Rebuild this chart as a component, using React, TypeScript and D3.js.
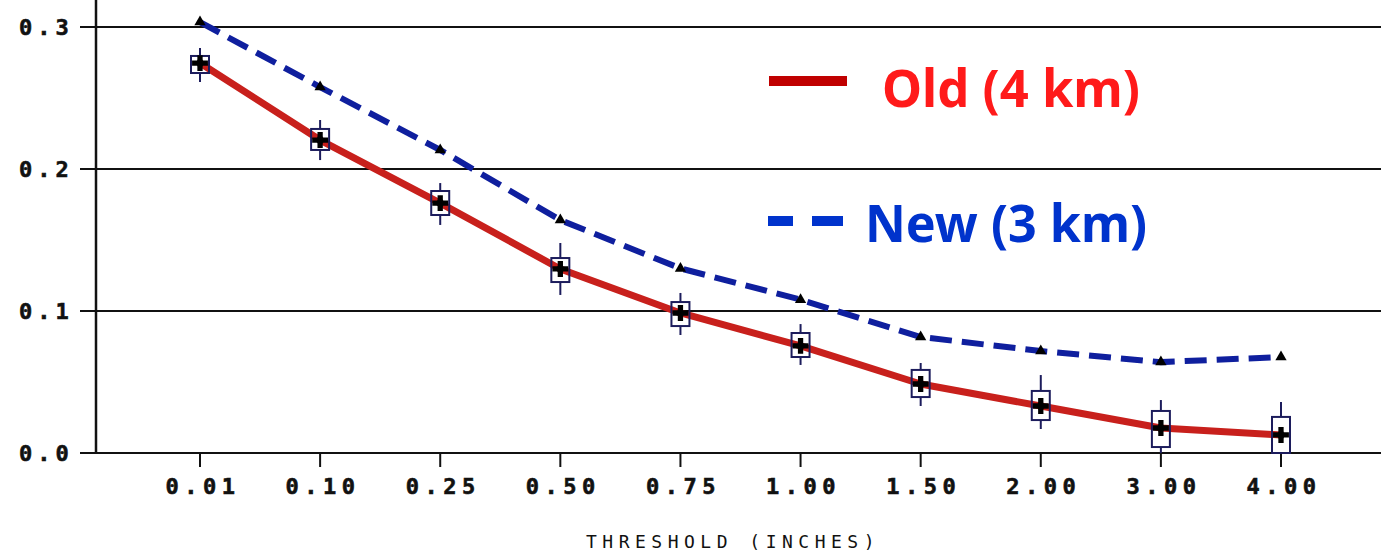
import React from "react";
import * as d3 from "d3";

const categories = ["0.01", "0.10", "0.25", "0.50", "0.75", "1.00", "1.50", "2.00", "3.00", "4.00"];
const oldValues = [0.2746, 0.2204, 0.176, 0.1296, 0.0986, 0.0754, 0.0486, 0.0331, 0.0176, 0.0127];
const newValues = [0.3035, 0.2577, 0.2134, 0.164, 0.130, 0.108, 0.0817, 0.0718, 0.064, 0.0676];
const oldBoxHigh = [0.2796, 0.2282, 0.1845, 0.1373, 0.1063, 0.0845, 0.0585, 0.0437, 0.0296, 0.0254];
const oldBoxLow = [0.2676, 0.2134, 0.1676, 0.1204, 0.0894, 0.0676, 0.0394, 0.0232, 0.0042, 0.0];
const oldWhiskerHigh = [0.2852, 0.2345, 0.1901, 0.1479, 0.1127, 0.0908, 0.0634, 0.0549, 0.0373, 0.0359];
const oldWhiskerLow = [0.2613, 0.2063, 0.1606, 0.1113, 0.0831, 0.062, 0.0331, 0.0169, 0.0, 0.0];
const yTicks = [0.0, 0.1, 0.2, 0.3];
const yTickLabels = ["0.0", "0.1", "0.2", "0.3"];
const xTitle = "THRESHOLD (INCHES)";
const legendLabels = ["Old (4 km)", "New (3 km)"];

const W = 1381;
const H = 554;

export default function App() {
  const x = d3.scalePoint<string>().domain(categories).range([200, 1281]);
  const y = d3.scaleLinear().domain([0, 0.3]).range([453, 27]);

  const line = d3
    .line<number>()
    .x((_, i) => x(categories[i]) as number)
    .y((d) => y(d));

  const cross = d3.symbol().type(d3.symbolCross).size(140)();
  const diamond = d3.symbol().type(d3.symbolDiamond).size(60)();
  const tri = d3.symbol().type(d3.symbolTriangle).size(55)();

  const mono = "'DejaVu Sans Mono', 'Liberation Mono', monospace";

  return (
    <svg
      width={W}
      height={H}
      viewBox={`0 0 ${W} ${H}`}
      style={{ position: "fixed", left: 0, top: 0, background: "#fff" }}
    >
      <rect x={0} y={0} width={W} height={H} fill="#fff" />
      {/* grid lines */}
      {yTicks.map((t) => (
        <line key={t} x1={80} x2={W} y1={y(t)} y2={y(t)} stroke="#111" strokeWidth={2} />
      ))}
      {/* y axis */}
      <line x1={96} x2={96} y1={0} y2={y(0)} stroke="#111" strokeWidth={2.5} />
      {yTicks.map((t, i) => (
        <text
          key={"yl" + t}
          x={19}
          y={y(t)}
          dy="0.36em"
          fontFamily={mono}
          fontWeight="bold"
          fontSize={22}
          letterSpacing={5}
          fill="#111"
          stroke="#111"
          strokeWidth={0.6}
        >
          {yTickLabels[i]}
        </text>
      ))}
      {/* x ticks */}
      {categories.map((c) => (
        <g key={"xt" + c}>
          <line x1={x(c)} x2={x(c)} y1={y(0)} y2={y(0) + 14} stroke="#111" strokeWidth={2} />
          <text
            x={(x(c) as number) + 3}
            y={486}
            dy="0.36em"
            textAnchor="middle"
            fontFamily={mono}
            fontWeight="bold"
            fontSize={22}
            letterSpacing={5.5}
            fill="#111"
            stroke="#111"
            strokeWidth={0.6}
          >
            {c}
          </text>
        </g>
      ))}
      <text
        x={733}
        y={548}
        textAnchor="middle"
        fontFamily={mono}
        fontSize={18}
        letterSpacing={5.5}
        fill="#111"
      >
        {xTitle}
      </text>

      {/* new series dashed */}
      <path
        d={line(newValues) || ""}
        fill="none"
        stroke="#0f1f9e"
        strokeWidth={6}
        strokeDasharray="22 10"
      />
      {newValues.map((v, i) => (
        <path key={"tr" + i} d={tri || ""} transform={`translate(${x(categories[i])},${y(v)})`} fill="#000" />
      ))}

      {/* old series solid */}
      <path d={line(oldValues) || ""} fill="none" stroke="#c8201c" strokeWidth={7} strokeLinejoin="round" />

      {/* box plots */}
      {categories.map((c, i) => {
        const cx = x(c) as number;
        return (
          <g key={"bx" + c}>
            <line x1={cx} x2={cx} y1={y(oldWhiskerHigh[i])} y2={y(oldBoxHigh[i])} stroke="#1c1c5c" strokeWidth={2} />
            <line x1={cx} x2={cx} y1={y(oldBoxLow[i])} y2={y(oldWhiskerLow[i])} stroke="#1c1c5c" strokeWidth={2} />
            <rect
              x={cx - 9}
              y={y(oldBoxHigh[i])}
              width={18}
              height={y(oldBoxLow[i]) - y(oldBoxHigh[i])}
              fill="none"
              stroke="#1c1c5c"
              strokeWidth={2}
            />
            <path d={cross || ""} transform={`translate(${cx},${y(oldValues[i])})`} fill="#000" />
            <path d={diamond || ""} transform={`translate(${cx},${y(oldValues[i])})`} fill="#000" />
          </g>
        );
      })}

      {/* legend */}
      <rect x={769} y={76} width={78} height={10} fill="#c00000" />
      <text
        x={882}
        y={107}
        fontFamily="'Noto Sans', 'Open Sans', sans-serif"
        fontWeight="bold"
        fontSize={52}
        textLength={258}
        lengthAdjust="spacingAndGlyphs"
        fill="#ff1a1a"
      >
        {legendLabels[0]}
      </text>
      <rect x={768} y={216} width={25} height={10} fill="#0033cc" />
      <rect x={812} y={216} width={31} height={10} fill="#0033cc" />
      <text
        x={865}
        y={242}
        fontFamily="'Noto Sans', 'Open Sans', sans-serif"
        fontWeight="bold"
        fontSize={52}
        textLength={282}
        lengthAdjust="spacingAndGlyphs"
        fill="#0033cc"
      >
        {legendLabels[1]}
      </text>
    </svg>
  );
}
